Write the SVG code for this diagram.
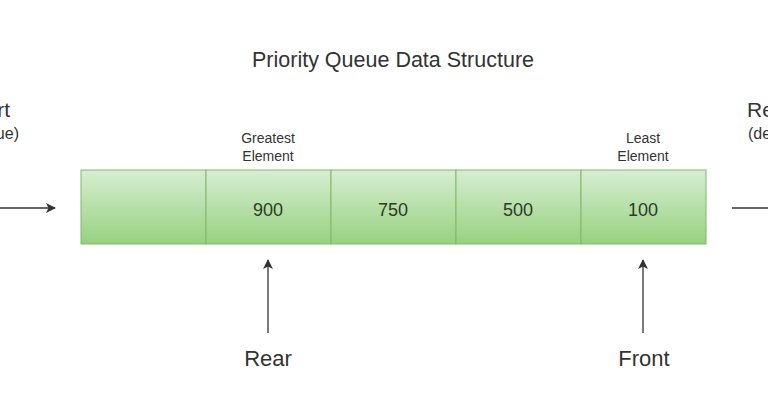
<svg xmlns="http://www.w3.org/2000/svg" width="768" height="403" viewBox="0 0 768 403">
<defs>
<linearGradient id="g" x1="0" y1="0" x2="0" y2="1">
<stop offset="0" stop-color="#d6eed2"/>
<stop offset="1" stop-color="#97d17f"/>
</linearGradient>
<marker id="ah" markerWidth="10" markerHeight="10" refX="9" refY="5" orient="auto" markerUnits="userSpaceOnUse">
<path d="M0,0 L10,5 L0,10 L2.5,5 Z" fill="#333"/>
</marker>
<style>
text{font-family:"Liberation Sans",Arial,sans-serif;fill:#333}
.cell{fill:url(#g);stroke:#86b56e;stroke-width:1}
.val{font-size:18px;text-anchor:middle;fill:#2f3a2a}
.small{font-size:14px;text-anchor:middle}
.lbl{font-size:22px;text-anchor:middle}
.conn{stroke:#333;stroke-width:1.3;fill:none}
</style>
</defs>
<rect width="768" height="403" fill="#ffffff"/>
<text x="393" y="67" font-size="21.5" text-anchor="middle">Priority Queue Data Structure</text>
<g id="cell0"><rect class="cell" x="81" y="170" width="125" height="74"/></g>
<g id="cell1"><rect class="cell" x="206" y="170" width="125" height="74"/><text class="val" x="268" y="215.5">900</text></g>
<g id="cell2"><rect class="cell" x="331" y="170" width="125" height="74"/><text class="val" x="393" y="215.5">750</text></g>
<g id="cell3"><rect class="cell" x="456" y="170" width="125" height="74"/><text class="val" x="518" y="215.5">500</text></g>
<g id="cell4"><rect class="cell" x="581" y="170" width="125" height="74"/><text class="val" x="643" y="215.5">100</text></g>
<g id="greatest"><text class="small" x="268" y="143">Greatest</text><text class="small" x="268" y="161">Element</text></g>
<g id="least"><text class="small" x="643" y="143">Least</text><text class="small" x="643" y="161">Element</text></g>
<g id="insert"><text x="10" y="117" font-size="21" text-anchor="end">Insert</text><text x="19" y="139" font-size="16" text-anchor="end">(enqueue)</text></g>
<g id="remove"><text x="747" y="117" font-size="21">Remove</text><text x="748" y="139" font-size="16">(dequeue)</text></g>
<g id="rear"><text class="lbl" x="268" y="366">Rear</text></g>
<g id="front"><text class="lbl" x="644" y="366">Front</text></g>
<g id="connectors">
<line class="conn" x1="0" y1="208" x2="55" y2="208" marker-end="url(#ah)"/>
<line class="conn" x1="732" y1="208" x2="768" y2="208"/>
<line class="conn" x1="268" y1="333" x2="268" y2="260" marker-end="url(#ah)"/>
<line class="conn" x1="643" y1="333" x2="643" y2="260" marker-end="url(#ah)"/>
</g>
</svg>
